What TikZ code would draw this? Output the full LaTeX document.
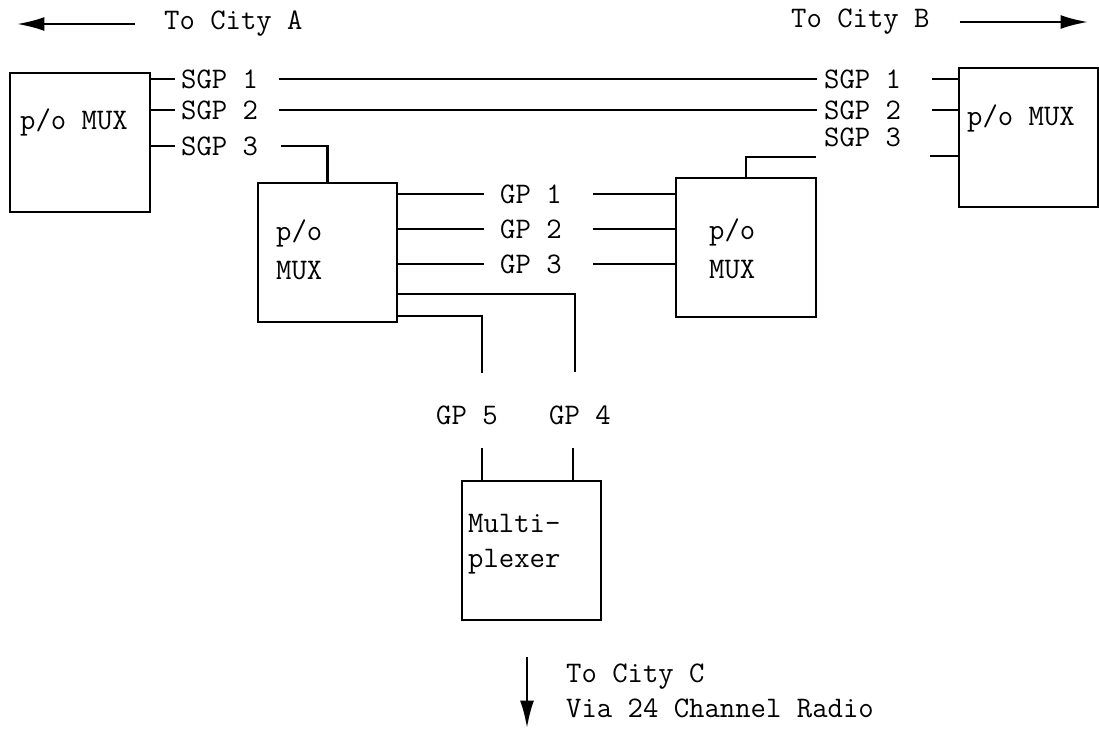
\documentclass[tikz,border=0pt]{standalone}
\usetikzlibrary{arrows.meta, calc}

\begin{document}
\begin{tikzpicture}[
    x=0.02cm, y=-0.02cm,
    line width=1.3pt,
    every node/.style={font=\ttfamily\fontsize{17}{20}\selectfont},
    box/.style={draw, anchor=north west, minimum width=2.78cm, minimum height=2.78cm, inner sep=0pt},
    lbl/.style={anchor=west, inner sep=0pt},
    txt/.style={anchor=west, inner sep=0pt, align=left},
    arr/.style={-{Latex[length=0.55cm, width=0.28cm]}}]
    \useasboundingbox (0,0) rectangle (1099,731);

    % multiplexers
    \node[box, minimum width=2.8cm] (lmux) at (9,72)    {};
    \node[box]                      (rmux) at (958,67)  {};
    \node[box]                      (amux) at (257,182) {};
    \node[box, minimum width=2.8cm] (bmux) at (675,177) {};
    \node[box]                      (mplx) at (461,480) {};
    \node[txt] (lmuxt) at (19,122)  {p/o MUX};
    \node[txt] (rmuxt) at (966,118) {p/o MUX};
    \node[txt] (amuxt) at (275,250) {p/o\\[2pt]MUX};
    \node[txt] (bmuxt) at (708,249) {p/o\\[2pt]MUX};
    \node[txt] (mplxt) at (467,544) {Multi-\\plexer};

    % destinations
    \node[lbl] (ctA) at (163,24)  {To City A};
    \node[lbl] (ctB) at (790,22)  {To City B};
    \node[txt] (ctC) at (565,691) {To City C\\Via 24 Channel Radio};
    \coordinate (ea) at (17,24);
    \coordinate (eb) at (1088,22);
    \coordinate (sc) at (527,657);
    \coordinate (ec) at (527,728);
    \draw[arr] ([xshift=-0.56cm]ctA.west) -- (ea);
    \draw[arr] ([xshift=0.58cm]ctB.east) -- (eb);
    \draw[arr] (sc) -- (ec);

    % super groups
    \foreach \i/\y in {1/79,2/110,3/146}
      \node[lbl] (lsgp\i) at (180,\y) {SGP \i};
    \foreach \i/\y in {1/79,2/110,3/137}
      \node[lbl] (rsgp\i) at (823,\y) {SGP \i};
    \foreach \i in {1,2,3}
      \draw (lmux.east |- lsgp\i) -- ([xshift=-0.1cm]lsgp\i.west);
    \foreach \i in {1,2} {
      \draw ([xshift=0.4cm]lsgp\i.east) -- ([xshift=-0.12cm]rsgp\i.west);
      \draw ([xshift=0.6cm]rsgp\i.east) -- (rsgp\i -| rmux.west);
    }
    \draw ([xshift=0.44cm]lsgp3.east) -| (amux.north);
    \coordinate (r3)  at (816,157);
    \coordinate (r3b) at (930,156);
    \draw (bmux.north) |- (r3);
    \draw (r3b) -- (r3b -| rmux.west);

    % groups
    \foreach \i/\y in {1/194,2/229,3/264} {
      \node[lbl] (gp\i) at (499,\y) {GP \i};
      \draw (amux.east |- gp\i) -- ([xshift=-0.3cm]gp\i.west);
      \draw ([xshift=0.6cm]gp\i.east) -- (gp\i -| bmux.west);
    }
    \node[lbl] (gp5) at (435,415) {GP 5};
    \node[lbl] (gp4) at (548,415) {GP 4};
    \coordinate (g4) at (575,372);
    \coordinate (g5) at (482,373);
    \coordinate (m4) at (573,448);
    \coordinate (m5) at (482,448);
    \draw ([yshift=0.58cm]amux.south east) -| (g4);
    \draw ([yshift=0.14cm]amux.south east) -| (g5);
    \draw (m4) -- (m4 |- mplx.north);
    \draw (m5) -- (m5 |- mplx.north);
\end{tikzpicture}
\end{document}
